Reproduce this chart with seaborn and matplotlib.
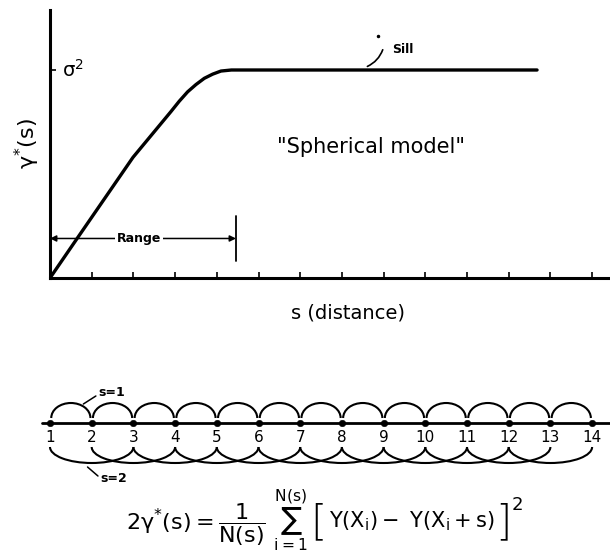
import numpy as np
import pandas as pd
import matplotlib
matplotlib.use('Agg')
import matplotlib.pyplot as plt
from matplotlib.patches import Arc
import seaborn as sns

# curve (distance in tick units, gamma relative to sill)
dist = [0, 0.65, 1.99, 2.9, 3.1, 3.3, 3.5, 3.7, 3.9, 4.1, 4.35, 5.0, 11.68]
gamma = [0, 0.19, 0.58, 0.80, 0.85, 0.895, 0.93, 0.96, 0.98, 0.995, 1.0, 1.0, 1.0]
sill = 1.0
range_s = 4.46
x_ticks = list(range(1, 14))
points = list(range(1, 15))

sns.set_style('white')
plt.rcParams['font.family'] = ['DejaVu Sans']
plt.rcParams['mathtext.fontset'] = 'dejavusans'
plt.rcParams['text.color'] = 'black'
plt.rcParams['axes.labelcolor'] = 'black'

fig = plt.figure(figsize=(6.1, 5.57), dpi=100)

# ---- top: variogram ----
ax = fig.add_axes([50 / 610, 1 - 278 / 557, 560 / 610, 268 / 557])
df = pd.DataFrame({'s': dist, 'g': gamma})
sns.lineplot(data=df, x='s', y='g', ax=ax, color='black', lw=2.4, sort=False)
ax.set_xlim(0, 560 / 41.7)
ax.set_ylim(0, 268 / 208)
for sp in ['top', 'right']:
    ax.spines[sp].set_visible(False)
for sp in ['left', 'bottom']:
    ax.spines[sp].set_linewidth(2.2)
    ax.spines[sp].set_color('black')
ax.set_xticks(x_ticks)
ax.set_yticks([sill])
ax.tick_params(direction='in', length=4, width=1.2, labelbottom=False, labelleft=False,
               bottom=True, left=True, color='black')
ax.set_xlabel('')
ax.set_ylabel(r'$\mathregular{\gamma^{*}(s)}$', fontsize=16, labelpad=6)

ax.text(0.28, sill, r'$\mathregular{\sigma^2}$', fontsize=14, va='center', ha='left')
ax.text(8.2, 1.10, 'Sill', fontsize=9, fontweight='bold', va='center', ha='left')
ax.annotate('', xy=(7.55, sill + 0.012), xytext=(8.0, 1.11),
            arrowprops=dict(arrowstyle='-', lw=1.2, color='black',
                            connectionstyle='arc3,rad=-0.25'))
ax.plot([7.87], [1.165], marker='.', color='black', ms=3)

ax.text(7.7, 0.63, '"Spherical model"', fontsize=15, ha='center', va='center')

# range arrow
yr = 0.19
ax.annotate('', xy=(0, yr), xytext=(range_s, yr),
            arrowprops=dict(arrowstyle='<|-|>', lw=1.1, color='black',
                            mutation_scale=9, shrinkA=0, shrinkB=0))
ax.text(2.13, yr, 'Range', fontsize=9, fontweight='bold', ha='center', va='center',
        bbox=dict(facecolor='white', edgecolor='none', pad=1.5))
ax.plot([range_s, range_s], [0.082, 0.298], color='black', lw=1.3)

fig.text(348 / 610, 1 - 313 / 557, 's (distance)', fontsize=14, ha='center', va='center')

# ---- bottom: pair diagram ----
ax2 = fig.add_axes([0, 0, 1, 279 / 557])
ax2.set_xlim(1 - 50 / 41.7, 1 + 560 / 41.7)
ax2.set_ylim(0, 279)
ax2.axis('off')
y_line = 557 - 423
ax2.plot([points[0] - 0.2, ax2.get_xlim()[1]], [y_line, y_line], color='black', lw=2.0)
pdf = pd.DataFrame({'p': points, 'y': [y_line] * len(points)})
sns.scatterplot(data=pdf, x='p', y='y', ax=ax2, color='black', s=22, edgecolor='black', zorder=3)
ax2.set_xlabel('')
ax2.set_ylabel('')
for p in points:
    ax2.text(p, 557 - 437, str(p), fontsize=11, ha='center', va='center')

# s=1 arcs above the line
for a, b in zip(points[:-1], points[1:]):
    ax2.add_patch(Arc(((a + b) / 2, 557 - 418), b - a - 0.06, 30, theta1=0, theta2=180,
                      color='black', lw=1.5))
# s=2 arcs below the labels
for a, b in zip(points[:-2], points[2:]):
    ax2.add_patch(Arc(((a + b) / 2, 557 - 447), b - a, 32, theta1=180, theta2=360,
                      color='black', lw=1.5))

ax2.text(2.15, 557 - 393, 's=1', fontsize=9, fontweight='bold', ha='left', va='center')
ax2.plot([1.8, 2.1], [557 - 404, 557 - 396], color='black', lw=1.1)
ax2.text(2.2, 557 - 478, 's=2', fontsize=9, fontweight='bold', ha='left', va='center')
ax2.plot([1.9, 2.15], [557 - 467, 557 - 476], color='black', lw=1.1)

# formula, assembled from pieces so the brackets can be tall
yf = 1 - 521 / 557
fig.text(308 / 610, yf,
         r'$\mathregular{2\gamma^{*}(s)=\dfrac{1}{N(s)}\ \sum_{i=1}^{N(s)}}$',
         fontsize=16, ha='right', va='center')
fig.text(318 / 610, yf - 0.004, '[', fontsize=30, fontweight='light', ha='center', va='center')
fig.text(329 / 610, yf, r'$\mathregular{Y(X_i)-\ Y(X_i+s)}$', fontsize=15, ha='left', va='center')
fig.text(503 / 610, yf - 0.004, ']', fontsize=30, fontweight='light', ha='center', va='center')
fig.text(517 / 610, 1 - 505 / 557, '2', fontsize=13, ha='center', va='center')

fig.savefig('out.png', dpi=100, facecolor='white')
